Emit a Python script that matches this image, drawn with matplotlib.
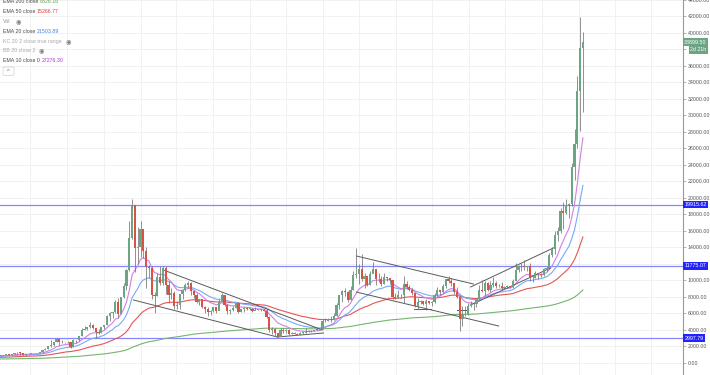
import numpy as np
import pandas as pd
import matplotlib
matplotlib.use('Agg')
import matplotlib.pyplot as plt
from matplotlib.patches import FancyBboxPatch

plt.rcParams['font.family'] = ['Liberation Sans', 'DejaVu Sans']

# weekly candles, first week starts 2017-01-16, last is 2021-01-11
start_week = '2017-01-16'
first_open = 830

closes = [
    # 2017
    920, 920, 1030, 1000, 1050, 1180, 1270, 1230, 970, 1040,
    1080, 1180, 1180, 1250, 1350, 1560, 1730, 2050, 2150, 2550,
    2950, 2500, 2560, 2500, 2510, 1930, 2750, 2750, 3230, 4050,
    4100, 4350, 4600, 4200, 3700, 3650, 4380, 4600, 5700, 6000,
    6150, 7400, 5900, 8050, 9300, 11300, 15200, 19100, 13900, 14000,
    # 2018
    16200, 13600, 11600, 11500, 8200, 8100, 10400, 9700, 11500, 9500,
    8200, 8500, 6900, 7000, 8350, 8900, 9400, 9650, 8700, 8200,
    7350, 7700, 6750, 6500, 6150, 6350, 6750, 6350, 7400, 8200,
    7000, 6300, 6400, 6700, 7300, 6200, 6500, 6700, 6600, 6600,
    6300, 6400, 6450, 6480, 6350, 5600, 4000, 4150, 3600, 3200,
    3950, 3850,
    # 2019
    4050, 3500, 3550, 3550, 3450, 3650, 3650, 3800, 3800, 3900,
    4000, 3990, 4100, 5050, 5150, 5300, 5200, 5750, 7000, 8200,
    8750, 8550, 7650, 8850, 10700, 10800, 11450, 10200, 10550, 9500,
    10800, 11350, 10200, 10150, 9600, 10400, 10300, 10000, 8050, 7900,
    8300, 8200, 9550, 9200, 8800, 8500, 6900, 7400, 7500, 7100,
    7500, 7300,
    # 2020
    7350, 8200, 8900, 8600, 9300, 10150, 9900, 9650, 8550, 8000,
    5350, 5850, 5900, 6900, 7100, 7150, 7700, 8900, 8700, 9700,
    8900, 9450, 9750, 9350, 9300, 9150, 9250, 9250, 9200, 9950,
    11250, 11700, 11750, 11650, 11700, 10250, 10300, 10950, 10800, 10650,
    11350, 11500, 13050, 13800, 15500, 16050, 18400, 18200, 19150, 19250,
    23750, 26500, 33000,
    # 2021
    38150, 38899.5,
]

highs = [
    930, 935, 1040, 1065, 1060, 1200, 1290, 1330, 1250, 1080,
    1100, 1220, 1220, 1260, 1370, 1620, 1790, 2100, 2760, 2560,
    3000, 2980, 2780, 2600, 2670, 2530, 2900, 2840, 3250, 4200,
    4480, 4380, 4980, 4700, 4250, 4120, 4400, 4620, 5850, 6200,
    6150, 7600, 7900, 8050, 9650, 11400, 17200, 19900, 19200, 16500,
    17200, 16300, 14100, 11900, 11700, 8600, 10900, 11800, 11700, 11700,
    9900, 9100, 8700, 7500, 8400, 9000, 9750, 9950, 9800, 8900,
    8500, 7800, 7750, 6900, 6800, 6450, 6800, 6800, 7700, 8500,
    8250, 7150, 6600, 6880, 7300, 7400, 6600, 6800, 6800, 6700,
    6700, 6750, 6550, 6500, 6600, 6500, 5650, 4400, 4200, 3600,
    4200, 4250,
    4100, 4100, 3700, 3700, 3600, 3700, 3700, 4200, 3950, 3950,
    4050, 4100, 4150, 5300, 5450, 5450, 5650, 6000, 7300, 8300,
    8900, 9100, 8750, 9300, 11200, 13900, 12000, 13200, 10900, 10600,
    11100, 12300, 11450, 10900, 10600, 10900, 10450, 10350, 10050, 8500,
    8800, 8400, 10500, 9900, 9500, 9100, 8500, 7850, 7650, 7550,
    7700, 7550,
    7550, 8450, 9200, 8900, 9600, 10150, 10500, 10300, 9700, 9200,
    8200, 6900, 6950, 7300, 7500, 7300, 7800, 9450, 10000, 9950,
    9850, 9950, 10400, 9950, 9600, 9800, 9300, 9450, 9300, 10150,
    12100, 11900, 12100, 12500, 11800, 12100, 10600, 11100, 10950, 10950,
    11500, 11750, 13350, 14100, 15950, 16500, 18800, 19500, 19900, 19400,
    24300, 28400, 34800,
    41950, 40100,
]

lows = [
    810, 880, 910, 930, 990, 1040, 1150, 1000, 950, 890,
    1000, 1080, 1160, 1170, 1240, 1340, 1560, 1700, 1900, 2100,
    2500, 2150, 2450, 2380, 2480, 1840, 1900, 2460, 2650, 3220,
    3950, 3950, 4300, 4100, 2980, 3500, 3600, 4170, 4580, 5100,
    5400, 6050, 5500, 5880, 7850, 8900, 11200, 15000, 11000, 12000,
    12800, 12700, 9100, 10300, 7800, 6000, 8100, 9400, 9400, 8400,
    7300, 7800, 6500, 6500, 6600, 7800, 8700, 9050, 8200, 7900,
    7300, 7050, 6650, 6100, 5750, 5800, 6200, 6100, 6650, 7700,
    6900, 5900, 5900, 6250, 6700, 6100, 6150, 6150, 6400, 6400,
    6200, 6400, 6380, 6300, 6300, 5500, 3800, 3500, 3300, 3150,
    3250, 3600,
    3650, 3450, 3500, 3500, 3350, 3400, 3550, 3650, 3700, 3700,
    3850, 3950, 3950, 4100, 4950, 5100, 5000, 5250, 5700, 6600,
    7450, 8100, 7450, 7650, 8800, 10300, 9600, 9900, 9100, 9300,
    9400, 11000, 9500, 9800, 9300, 9600, 9900, 9600, 7700, 7750,
    7850, 7900, 7300, 9000, 8700, 8300, 6800, 6500, 7100, 7000,
    6400, 7100,
    6850, 7300, 8100, 8250, 8500, 9100, 9700, 9300, 8400, 7900,
    3850, 4450, 5700, 5850, 6750, 6450, 6800, 7600, 8550, 8200,
    8700, 8650, 9250, 9100, 9200, 8850, 8950, 9050, 9100, 9150,
    9950, 11000, 11100, 11300, 11100, 9900, 9850, 10250, 10150, 10450,
    10550, 11200, 11400, 12900, 13200, 14800, 15800, 16200, 18100, 17600,
    19000, 22200, 26100,
    28100, 30400,
]

# EMA settings
ema_lengths = [200, 50, 20, 10]
ema_seeds = [480, 680, 800, 870]
ema_colors = ['#74b56f', '#e35656', '#78aaf5', '#d080e4']
ema_text_colors = ['#5fa34a', '#e03c3c', '#3f86e8', '#a63ccc']
ema_values = ['8826.16', '15266.77', '21503.89', '27276.30']

# drawn horizontal levels (where the lines sit on the chart) and their tags
levels = [19200, 11775.07, 2997.79]
level_labels = ['19915.62', '11775.07', '2997.79']

# drawn trend lines (week index, price)
trend_lines = [
    ((58.2, 11270), (115.0, 4000)),
    ((47.5, 7640), (98.9, 3150)),
    ((98.9, 3150), (115.4, 3640)),
    ((127.1, 12970), (168.9, 9575)),
    ((127.1, 8600), (177.9, 4485)),
    ((167.9, 9210), (198.2, 14060)),
    ((167.9, 7030), (196.4, 11515)),
    ((147.5, 6545), (153.6, 6545)),
    ((163.0, 6400), (166.8, 6400)),
]

closes = np.array(closes, dtype=float)
highs = np.array(highs, dtype=float)
lows = np.array(lows, dtype=float)
opens = np.concatenate([[first_open], closes[:-1]])
n = len(closes)
x = np.arange(n)
dates = pd.date_range(start_week, periods=n, freq='7D')


def ema(values, length, seed):
    a = 2.0 / (length + 1)
    out = []
    prev = seed
    for v in values:
        prev = prev + a * (v - prev)
        out.append(prev)
    return np.array(out)


W, H = 710, 375
fig = plt.figure(figsize=(W / 100, H / 100), dpi=100)
ax = fig.add_axes([0, 0, 683 / W, 1])

px_per_week = 2.8
x_left = -0.5 / px_per_week
ax.set_xlim(x_left, x_left + 683 / px_per_week)
ax.set_ylim(-1455, 44000)

# grid: quarterly verticals, 2000 step horizontals
quarters = pd.date_range('2017-04-01', '2021-07-01', freq='QS')
qpos = [(q - dates[0]).days / 7 for q in quarters]
ax.set_xticks(qpos)
ax.tick_params(axis='x', length=0, labelbottom=False)
yt = np.arange(0, 44001, 2000)
ax.set_yticks(yt)
ax.yaxis.tick_right()
# labels hidden behind the price tags are left blank
hidden = [12000, 38000]
ax.set_yticklabels(['' if v in hidden else '%.2f' % v for v in yt])
ax.tick_params(axis='y', length=2, width=0.5, color='#999999', labelsize=3.8,
               labelcolor='#555555', pad=1.5)
ax.grid(True, color='#efefef', lw=0.6)
ax.set_axisbelow(True)
for s in ['top', 'left', 'bottom']:
    ax.spines[s].set_visible(False)
ax.spines['right'].set_color('#9a9a9a')
ax.spines['right'].set_linewidth(0.8)

# levels
for lv in levels:
    ax.axhline(lv, color='#8787ff', lw=0.9, zorder=2)

# trend lines
for (x0, y0), (x1, y1) in trend_lines:
    ax.plot([x0, x1], [y0, y1], color='#5a5a5a', lw=0.7, zorder=4)

# emas
for length, seed, col in zip(ema_lengths, ema_seeds, ema_colors):
    ax.plot(x, ema(closes, length, seed), color=col, lw=0.8, zorder=3)

# candles
up = closes >= opens
body_col = np.where(up, '#6ba583', '#d75442')
ax.vlines(x, lows, highs, color='#737375', lw=0.55, zorder=5)
bottoms = np.minimum(opens, closes)
heights = np.maximum(np.abs(closes - opens), 90)
ax.bar(x, heights, bottom=bottoms, width=0.72, color=body_col, linewidth=0, zorder=6)

# axis price labels
for lv, lab in zip(levels, level_labels):
    ax.annotate(lab, xy=(1, lv), xycoords=('axes fraction', 'data'), xytext=(1.2, 0),
                textcoords='offset points', ha='left', va='center', fontsize=3.8,
                color='white', zorder=10, annotation_clip=False,
                bbox=dict(boxstyle='square,pad=0.25', fc='#2323ff', ec='none'))
ax.annotate('%.2f' % closes[-1], xy=(1, closes[-1]), xycoords=('axes fraction', 'data'),
            xytext=(0.8, 0), textcoords='offset points', ha='left', va='center',
            fontsize=3.8, color='white', zorder=10, annotation_clip=False,
            bbox=dict(boxstyle='square,pad=0.25', fc='#6ba583', ec='none'))
ax.annotate('2d 21h', xy=(1, closes[-1]), xycoords=('axes fraction', 'data'),
            xytext=(5, -5.6), textcoords='offset points', ha='left', va='center',
            fontsize=3.8, color='white', zorder=10, annotation_clip=False,
            bbox=dict(boxstyle='square,pad=0.25', fc='#6ba583', ec='none'))


# legend text at top left
def ftext(px, py, s, size=3.8, **kw):
    fig.text(px / W, 1 - py / H, s, va='center', ha='left', fontsize=size, **kw)


rows = [1.8, 11.7, 21.7, 31.7, 41.7, 50.7, 60.4]
ftext(3, rows[0], 'EMA 200 close', color='#4a4a4a')
ftext(40, rows[0], ema_values[0], color=ema_text_colors[0])
ftext(3, rows[1], 'EMA 50 close', color='#4a4a4a')
ftext(37, rows[1], ema_values[1], color=ema_text_colors[1])
ftext(3, rows[2], 'Vol', color='#8a8a8a')
ftext(15.5, rows[2], '\u25c9', size=4.5, color='#7a7a7a')
ftext(3, rows[3], 'EMA 20 close', color='#4a4a4a')
ftext(37, rows[3], ema_values[2], color=ema_text_colors[2])
ftext(3, rows[4], 'KC 20 2 close true range', color='#a8a8a8')
ftext(65.5, rows[4], '\u25c9', size=4.5, color='#7a7a7a')
ftext(3, rows[5], 'BB 20 close 2', color='#a8a8a8')
ftext(39, rows[5], '\u25c9', size=4.5, color='#7a7a7a')
ftext(3, rows[6], 'EMA 10 close 0', color='#4a4a4a')
ftext(42, rows[6], ema_values[3], color=ema_text_colors[3])

box = FancyBboxPatch((3 / W, 1 - 75.5 / H), 11 / W, 8.5 / H,
                     boxstyle='round,pad=0,rounding_size=0.003',
                     transform=fig.transFigure, fc='white', ec='#cfcfcf', lw=0.5)
fig.patches.append(box)
fig.text(8.5 / W, 1 - 71.5 / H, '^', ha='center', va='center', fontsize=4, color='#555555')

fig.savefig('out.png', dpi=100)
